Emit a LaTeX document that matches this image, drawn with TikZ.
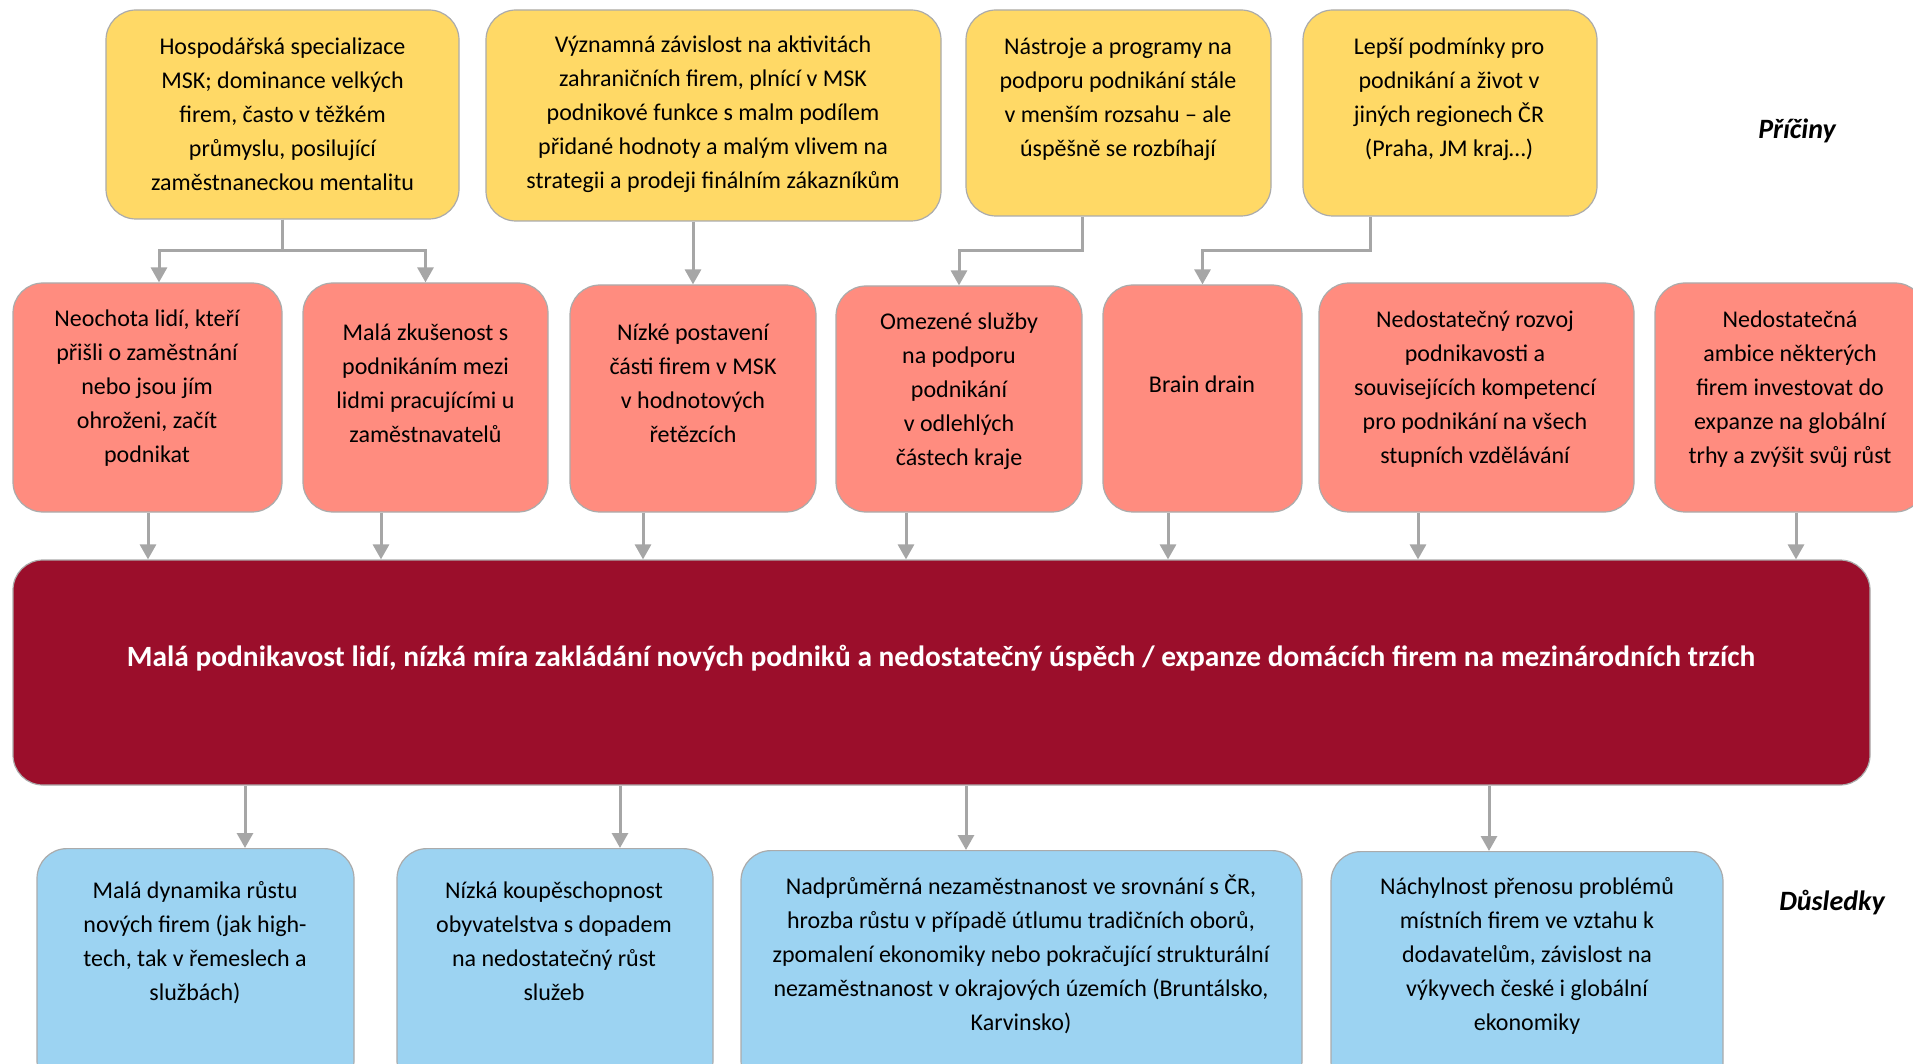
\documentclass[tikz,border=0pt]{standalone}
\usepackage{fontspec}
\setmainfont{Carlito}
\usepackage{xcolor}
\usetikzlibrary{arrows.meta}

\definecolor{causeyellow}{HTML}{FFD966}
\definecolor{problemred}{HTML}{FF8C7F}
\definecolor{corered}{HTML}{9B0E2B}
\definecolor{effectblue}{HTML}{9CD3F2}
\definecolor{boxline}{HTML}{ABABAB}
\definecolor{linkgray}{HTML}{A6A6A6}

\tikzset{
	box/.style={draw=boxline, line width=0.6pt, rounded corners=15pt, inner sep=0pt},
	cause/.style={box, fill=causeyellow},
	problem/.style={box, fill=problemred},
	core/.style={box, fill=corered},
	effect/.style={box, fill=effectblue},
	txt/.style={align=center, inner sep=0pt, font=\fontsize{12}{17}\selectfont},
	link/.style={draw=linkgray, line width=1.5pt, -{Triangle[length=7.5pt,width=8pt]}},
	side/.style={font=\fontsize{14}{17}\selectfont\bfseries\itshape}
}

\begin{document}
\begin{tikzpicture}[x=0.5pt, y=-0.5pt]
	\useasboundingbox (0,0) rectangle (1913,1064);
	\clip (0,0) rectangle (1913,1064);
	% causes
	\node[cause, minimum width=176.5pt, minimum height=104.5pt] (y1) at (282.5,114.5) {};
	\node[cause, minimum width=227.5pt, minimum height=105.5pt] (y2) at (713.5,115.5) {};
	\node[cause, minimum width=152.5pt, minimum height=103pt] (y3) at (1118.5,113) {};
	\node[cause, minimum width=147pt, minimum height=103pt] (y4) at (1450,113) {};
	\node[txt] (y1t) at (282.5,114) {Hospodářská specializace\\MSK; dominance velkých\\firem, často v těžkém\\průmyslu, posilující\\zaměstnaneckou mentalitu};
	\node[txt] (y2t) at (713,114.5) {Významná závislost na aktivitách\\zahraničních firem, plnící v MSK\\podnikové funkce s malm podílem\\přidané hodnoty a malým vlivem na\\strategii a prodeji finálním zákazníkům};
	\node[txt] (y3t) at (1118,99.5) {Nástroje a programy na\\podporu podnikání stále\\v menším rozsahu -- ale\\úspěšně se rozbíhají};
	\node[txt] (y4t) at (1449,99.5) {Lepší podmínky pro\\podnikání a život v\\jiných regionech ČR\\(Praha, JM kraj…)};
	\node[side] (causes) at (1797,131) {Příčiny};

	% problems
	\node[problem, minimum width=134.5pt, minimum height=114.5pt] (r1) at (147.5,397.5) {};
	\node[problem, minimum width=122.5pt, minimum height=114.5pt] (r2) at (425.5,397.5) {};
	\node[problem, minimum width=123pt, minimum height=113.5pt] (r3) at (693,398.5) {};
	\node[problem, minimum width=123pt, minimum height=113pt] (r4) at (959,399) {};
	\node[problem, minimum width=99.5pt, minimum height=113.5pt] (r5) at (1202.5,398.5) {};
	\node[problem, minimum width=157.5pt, minimum height=114.5pt] (r6) at (1476.5,397.5) {};
	\node[problem, minimum width=135pt, minimum height=114.5pt] (r7) at (1790,397.5) {};
	\node[txt] (r1t) at (147,388) {Neochota lidí, kteří\\přišli o zaměstnání\\nebo jsou jím\\ohroženi, začít\\podnikat};
	\node[txt] (r2t) at (425.5,383.5) {Malá zkušenost s\\podnikáním mezi\\lidmi pracujícími u\\zaměstnavatelů};
	\node[txt] (r3t) at (693,383.5) {Nízké postavení\\části firem v MSK\\v hodnotových\\řetězcích};
	\node[txt] (r4t) at (959,391.5) {Omezené služby\\na podporu\\podnikání\\v odlehlých\\částech kraje};
	\node[txt] (r5t) at (1202,384) {Brain drain};
	\node[txt] (r6t) at (1475,389) {Nedostatečný rozvoj\\podnikavosti a\\souvisejících kompetencí\\pro podnikání na všech\\stupních vzdělávání};
	\node[txt] (r7t) at (1790,389) {Nedostatečná\\ambice některých\\firem investovat do\\expanze na globální\\trhy a zvýšit svůj růst};

	% core problem
	\node[core, minimum width=928.5pt, minimum height=112.5pt] (core) at (941.5,672.5) {};
	\node[txt, text=white, font=\fontsize{14.7}{17}\selectfont\bfseries] (coret) at (941,658) {Malá podnikavost lidí, nízká míra zakládání nových podniků a nedostatečný úspěch / expanze domácích firem na mezinárodních trzích};

	% effects
	\node[effect, minimum width=158.5pt, minimum height=121pt, anchor=north] (b1) at (195.5,848) {};
	\node[effect, minimum width=158pt, minimum height=121pt, anchor=north] (b2) at (555,848) {};
	\node[effect, minimum width=280.5pt, minimum height=120pt, anchor=north] (b3) at (1021.5,850) {};
	\node[effect, minimum width=196pt, minimum height=120pt, anchor=north] (b4) at (1527,851) {};
	\node[txt] (b1t) at (195,943) {Malá dynamika růstu\\nových firem (jak high-\\tech, tak v řemeslech a\\službách)};
	\node[txt] (b2t) at (554,941.5) {Nízká koupěschopnost\\obyvatelstva s dopadem\\na nedostatečný růst\\služeb};
	\node[txt] (b3t) at (1021,954.5) {Nadprůměrná nezaměstnanost ve srovnání s ČR,\\hrozba růstu v případě útlumu tradičních oborů,\\zpomalení ekonomiky nebo pokračující strukturální\\nezaměstnanost v okrajových územích (Bruntálsko,\\Karvinsko)};
	\node[txt] (b4t) at (1527,955.5) {Náchylnost přenosu problémů\\místních firem ve vztahu k\\dodavatelům, závislost na\\výkyvech české i globální\\ekonomiky};
	\node[side] (effects) at (1832,903) {Důsledky};

	% causes -> problems
	\draw[link] (y1.south) -- (282.5,251) -| (159,0 |- r1.north);
	\draw[link] (y1.south) -- (282.5,251) -| (r2.north);
	\draw[link] (r3.north |- y2.south) -- (r3.north);
	\draw[link] (1082,0 |- y3.south) -- (1082,251) -| (r4.north);
	\draw[link] (1370,0 |- y4.south) -- (1370,251) -| (r5.north);

	% problems -> core
	\draw[link] (148,0 |- r1.south) -- (148,0 |- core.north);
	\draw[link] (381,0 |- r2.south) -- (381,0 |- core.north);
	\draw[link] (643,0 |- r3.south) -- (643,0 |- core.north);
	\draw[link] (906,0 |- r4.south) -- (906,0 |- core.north);
	\draw[link] (1168,0 |- r5.south) -- (1168,0 |- core.north);
	\draw[link] (1418,0 |- r6.south) -- (1418,0 |- core.north);
	\draw[link] (1796,0 |- r7.south) -- (1796,0 |- core.north);

	% core -> effects
	\draw[link] (245,0 |- core.south) -- (245,0 |- b1.north);
	\draw[link] (620,0 |- core.south) -- (620,0 |- b2.north);
	\draw[link] (966,0 |- core.south) -- (966,0 |- b3.north);
	\draw[link] (1489,0 |- core.south) -- (1489,0 |- b4.north);
\end{tikzpicture}
\end{document}
